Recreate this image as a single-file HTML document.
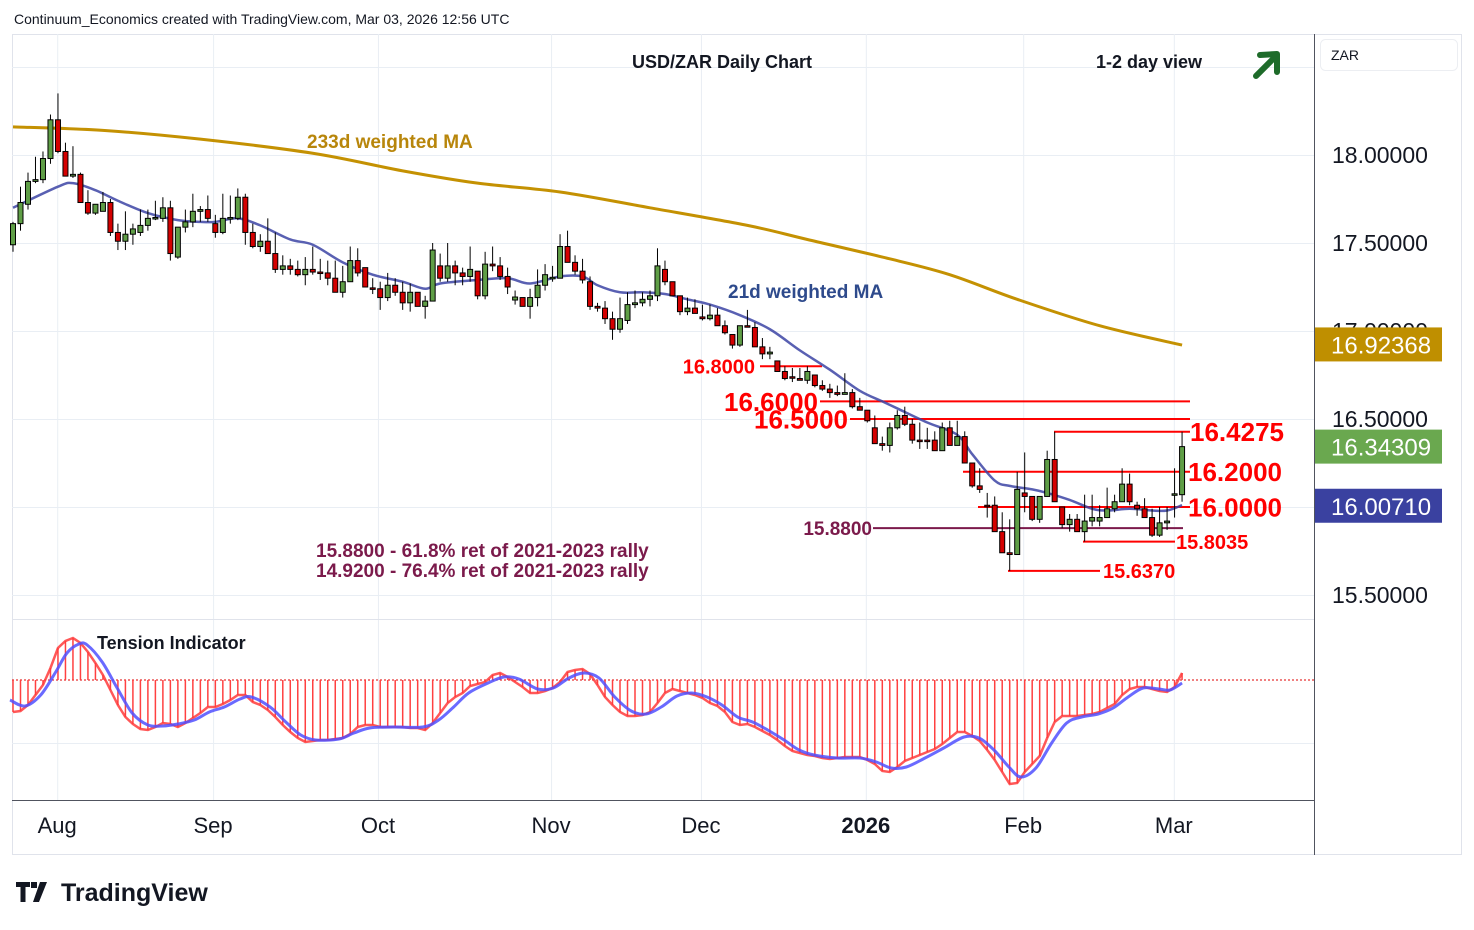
<!DOCTYPE html>
<html><head><meta charset="utf-8"><style>
html,body{margin:0;padding:0;background:#fff;}
svg{display:block;font-family:"Liberation Sans","DejaVu Sans",sans-serif;}
</style></head><body>
<svg id="chart" width="1474" height="930" viewBox="0 0 1474 930" xmlns="http://www.w3.org/2000/svg">
<text x="14" y="24" font-size="14" fill="#131722">Continuum_Economics created with TradingView.com, Mar 03, 2026 12:56 UTC</text>
<rect x="12.5" y="34.5" width="1449" height="820" fill="none" stroke="#e0e3eb"/>
<g id="grid"></g>
<g id="levels"></g>
<g id="mas"></g>
<g id="candles"></g>
<g id="osc"></g>
<line x1="1314.5" y1="34" x2="1314.5" y2="855" stroke="#50535e"/>
<line x1="12" y1="800.5" x2="1314" y2="800.5" stroke="#50535e"/>
<line x1="12" y1="619.5" x2="1314" y2="619.5" stroke="#e0e3eb"/>
<g id="axis"></g>
<g id="taxis"></g>
<text x="722" y="68" font-size="18" font-weight="bold" text-anchor="middle" fill="#131722">USD/ZAR Daily Chart</text>
<text x="1096" y="68" font-size="18" font-weight="bold" fill="#131722">1-2 day view</text>
<g><line x1="1256" y1="76" x2="1274" y2="58" stroke="#1e6b2a" stroke-width="6" stroke-linecap="round"/><polyline points="1260,55 1277,54 1277,72" fill="none" stroke="#1e6b2a" stroke-width="6" stroke-linecap="round" stroke-linejoin="round"/></g>
<rect x="1320.5" y="39.5" width="137" height="31" rx="5" fill="#fff" stroke="#eceef2"/>
<text x="1331" y="60" font-size="14" fill="#131722">ZAR</text>
<text x="307" y="148" font-size="19" font-weight="bold" fill="#b8860b">233d weighted MA</text>
<text x="728" y="298" font-size="19" font-weight="bold" fill="#2e4a8c">21d weighted MA</text>
<text x="316" y="557" font-size="19" font-weight="bold" fill="#7b1a4b">15.8800 - 61.8% ret of 2021-2023 rally</text>
<text x="316" y="577" font-size="19" font-weight="bold" fill="#7b1a4b">14.9200 - 76.4% ret of 2021-2023 rally</text>
<text x="97" y="649" font-size="18" font-weight="bold" fill="#131722">Tension Indicator</text>
<g><path d="M16 882h14v5h-4.5v15h-5v-15H16z M31 882h6v6h-6z M40 882h7l-8 20h-6z" fill="#131722"/><text x="61" y="901" font-size="25" font-weight="bold" fill="#131722">TradingView</text></g>
</svg>
<script>
const opens=[17.49,17.61,17.72,17.85,17.86,17.98,18.20,18.02,17.88,17.89,17.73,17.67,17.68,17.73,17.56,17.51,17.55,17.56,17.60,17.64,17.64,17.70,17.42,17.59,17.62,17.68,17.69,17.61,17.56,17.64,17.64,17.76,17.56,17.48,17.51,17.44,17.35,17.37,17.35,17.32,
17.35,17.335,17.33,17.30,17.22,17.28,17.40,17.36,17.245,17.24,17.19,17.26,17.22,17.16,17.22,17.14,17.17,17.37,17.30,17.37,17.33,17.31,17.34,17.20,17.38,17.37,17.31,17.176,17.19,17.14,17.19,17.26,17.30,17.30,17.48,17.39,17.34,17.28,17.14,
17.13,17.07,17.01,17.06,17.15,17.16,17.18,17.20,17.35,17.28,17.20,17.11,17.13,17.08,17.07,17.09,17.03,16.98,16.92,17.03,17.02,16.91,16.87,16.83,16.77,16.74,16.73,16.72,16.75,16.69,16.67,16.65,16.64,16.65,16.57,16.55,16.45,16.36,
16.35,16.45,16.52,16.47,16.38,16.38,16.38,16.32,16.45,16.35,16.40,16.25,16.12,16.01,16.01,15.86,15.74,15.73,16.08,16.06,15.93,16.06,16.27,16.00,15.90,15.93,15.86,15.92,15.92,15.94,15.99,16.03,16.13,16.01,15.99,15.94,15.84,15.91,16.07,16.07];
const highs=[17.62,17.82,17.90,17.99,18.02,18.23,18.35,18.07,18.05,17.90,17.80,17.72,17.79,17.75,17.61,17.68,17.61,17.69,17.69,17.74,17.76,17.74,17.59,17.69,17.78,17.71,17.77,17.66,17.78,17.77,17.81,17.78,17.61,17.55,17.64,17.56,17.43,17.41,17.40,17.42,
17.48,17.41,17.40,17.40,17.37,17.48,17.47,17.36,17.30,17.28,17.33,17.30,17.28,17.27,17.22,17.20,17.50,17.44,17.50,17.40,17.36,17.48,17.34,17.45,17.48,17.42,17.36,17.23,17.19,17.24,17.35,17.38,17.37,17.55,17.57,17.43,17.41,17.31,17.16,
17.17,17.11,17.19,17.22,17.23,17.22,17.23,17.47,17.40,17.28,17.20,17.19,17.18,17.15,17.15,17.13,17.06,16.98,17.03,17.12,17.05,16.96,16.91,16.83,16.80,16.79,16.79,16.80,16.75,16.72,16.70,16.69,16.76,16.67,16.62,16.55,16.52,16.40,
16.48,16.55,16.57,16.50,16.48,16.45,16.43,16.48,16.49,16.49,16.43,16.25,16.22,16.08,16.06,15.97,15.93,16.20,16.31,16.06,16.06,16.32,16.4275,16.00,15.96,15.96,16.07,16.07,16.01,16.11,16.07,16.22,16.19,16.03,16.05,15.99,16.00,16.00,16.22,16.4275];
const lows=[17.45,17.57,17.69,17.84,17.84,17.95,18.01,17.88,17.87,17.73,17.66,17.66,17.68,17.54,17.46,17.46,17.49,17.54,17.57,17.63,17.62,17.40,17.41,17.56,17.59,17.62,17.62,17.53,17.55,17.61,17.63,17.49,17.47,17.45,17.44,17.33,17.32,17.32,17.31,17.26,
17.32,17.29,17.26,17.22,17.19,17.28,17.31,17.25,17.21,17.12,17.17,17.20,17.12,17.11,17.14,17.07,17.17,17.28,17.28,17.26,17.26,17.28,17.18,17.18,17.34,17.29,17.21,17.15,17.14,17.07,17.14,17.23,17.28,17.30,17.39,17.32,17.27,17.12,17.11,
17.04,16.95,16.99,17.04,17.13,17.14,17.14,17.17,17.26,17.20,17.09,17.09,17.10,17.06,17.06,17.03,16.98,16.90,16.91,17.02,16.91,16.84,16.84,16.77,16.72,16.71,16.72,16.70,16.68,16.66,16.62,16.63,16.64,16.56,16.55,16.48,16.36,16.32,
16.31,16.44,16.46,16.36,16.33,16.33,16.32,16.32,16.35,16.35,16.25,16.11,16.08,15.94,15.86,15.74,15.637,15.73,15.97,15.92,15.91,16.06,16.03,15.88,15.86,15.86,15.8035,15.89,15.89,15.94,15.97,16.03,16.01,15.95,15.94,15.83,15.83,15.87,15.94,16.03];
const closes=[17.61,17.73,17.85,17.86,17.98,18.20,18.02,17.88,17.89,17.73,17.67,17.72,17.73,17.56,17.51,17.55,17.58,17.60,17.64,17.645,17.70,17.44,17.59,17.62,17.68,17.69,17.64,17.56,17.64,17.645,17.76,17.56,17.48,17.51,17.44,17.35,17.37,17.35,17.32,17.35,
17.335,17.33,17.30,17.22,17.28,17.40,17.33,17.25,17.24,17.19,17.26,17.22,17.16,17.22,17.14,17.17,17.46,17.30,17.37,17.33,17.31,17.35,17.20,17.38,17.37,17.31,17.25,17.193,17.14,17.19,17.26,17.32,17.305,17.48,17.39,17.34,17.29,17.14,17.13,
17.07,17.01,17.07,17.15,17.16,17.18,17.20,17.37,17.28,17.20,17.11,17.13,17.10,17.07,17.09,17.03,16.99,16.92,17.03,17.025,16.91,16.87,16.88,16.77,16.73,16.735,16.72,16.77,16.69,16.67,16.65,16.64,16.65,16.57,16.55,16.49,16.36,16.35,
16.45,16.52,16.47,16.38,16.375,16.375,16.32,16.45,16.35,16.40,16.25,16.12,16.10,16.005,15.86,15.74,15.73,16.10,16.06,15.93,16.06,16.27,16.03,15.90,15.93,15.86,15.92,15.94,15.94,15.99,16.03,16.13,16.03,15.99,15.94,15.84,15.91,15.92,16.075,16.343];
const ma21Idx=[0,6,8,11,14,18,22,25,27,30,33,37,40,44,48,52,55,57,62,66,69,73,76,78,81,84,87,90,93,97,101,105,109,113,116,118,122,126,128,131,133,136,138,141,144,146,149,152,154,156];
const ma21Val=[17.70,17.82,17.84,17.80,17.74,17.67,17.63,17.62,17.62,17.64,17.60,17.52,17.49,17.39,17.32,17.28,17.24,17.27,17.29,17.30,17.27,17.31,17.31,17.26,17.22,17.22,17.21,17.18,17.15,17.09,17.01,16.89,16.78,16.66,16.60,16.56,16.48,16.41,16.30,16.15,16.12,16.10,16.08,16.04,15.99,15.98,15.99,15.98,15.98,16.01];
const ma233Idx=[0,12,25,40,52,62,73,85,98,106,117,125,134,145,156];
const ma233Val=[18.16,18.14,18.09,18.01,17.91,17.84,17.79,17.70,17.60,17.52,17.41,17.32,17.18,17.03,16.92];
const tensionRed=[-32,-31,-25,-15,-5,12,32,39,42,37,28,17,5,-10,-25,-37,-44,-49,-50,-47,-43,-44,-47,-43,-38,-33,-27,-27,-24,-20,-15,-15,-22,-25,-30,-37,-45,-52,-58,-62,-61,-60,-60,-59,-58,-54,-47,-45,-45,-47,-47,-47,-47,-48,-48,-50,-43,-33,-23,-17,-13,-6,-4,-2,5,7,3,-2,-7,-13,-13,-11,-8,-2,8,10,11,6,-5,-17,
-25,-32,-36,-36,-35,-32,-23,-13,-9,-11,-13,-15,-18,-23,-26,-32,-42,-45,-44,-47,-51,-55,-60,-66,-71,-73,-75,-76,-78,-79,-78,-77,-77,-77,-80,-84,-91,-92,-87,-81,-78,-75,-72,-69,-64,-58,-52,-52,-56,-61,-70,-80,-92,-104,-103,-92,-84,-76,-58,-42,-36,-36,-36,-35,-34,-32,-28,-24,-15,-9,-7,-7,-9,-11,-12,-7,7];
const tensionBlueIdx=[-0.4,1.6,3.7,5.7,7.2,8.8,9.9,11.9,13.9,15.9,18,20,22,24.2,26.2,28.2,30.3,31.8,34.3,36.4,38.4,40.4,43.5,45.5,47.6,50.7,54.7,56.8,58.8,60.8,63.4,65.5,67.5,70,72.1,74.2,76.2,78.2,80.3,82.5,84.5,86.5,88.6,90.6,92.6,94.6,96.7,98.7,100.7,102.9,104.9,106.9,110,113,115.2,117.2,119.2,121.7,124.2,126.9,128.9,130.9,132.9,134.5,136.5,138.6,140.6,142.6,144.8,146.8,148.8,150.8,152.9,154.4,156];
const tensionBlueVal=[-20,-26,-15,8,27,36,35,18,-8,-33,-45,-46,-44,-40,-32,-27,-19,-17,-27,-42,-55,-60,-59,-53,-48,-47,-47,-40,-27,-13,-3,3,1,-9,-8,2,7,2,-17,-31,-34,-27,-16,-13,-17,-25,-37,-42,-50,-60,-70,-75,-78,-78,-82,-88,-87,-78,-68,-57,-58,-70,-87,-97,-88,-63,-43,-37,-34,-28,-17,-8,-9,-10,-3];
const priceTicks=[18.5,18.0,17.5,17.0,16.5,16.0,15.5];
const priceTickLabels=["","18.00000","17.50000","17.00000","16.50000","","15.50000"];
const monthIdx=[5.9,26.7,48.7,71.8,91.8,113.8,134.8,154.9];
const monthLabels=["Aug","Sep","Oct","Nov","Dec","2026","Feb","Mar"];

const NS="http://www.w3.org/2000/svg";
const xOf=i=>13+7.494*i;
const yOf=p=>155+(18-p)*176;
const yOsc=v=>680-v;
function mk(tag,attrs,parent){const e=document.createElementNS(NS,tag);for(const k in attrs)e.setAttribute(k,attrs[k]);parent.appendChild(e);return e;}

const grid=document.getElementById('grid');
priceTicks.forEach(p=>{const l=mk('line',{x1:12,x2:1314,y1:yOf(p)+0.5,y2:yOf(p)+0.5,stroke:'#e9eef4'},grid);

});
const og=mk('line',{x1:12,x2:1314,y1:743.5,y2:743.5,stroke:'#e9eef4'},grid);


monthIdx.forEach(m=>{const l=mk('line',{x1:xOf(m)+0.5,x2:xOf(m)+0.5,y1:34,y2:800,stroke:'#e9eef4'},grid);

});

const axis=document.getElementById('axis');
priceTicks.forEach((p,k)=>{if(!priceTickLabels[k])return;const t=mk('text',{x:1332,y:yOf(p)+8,'font-size':23,fill:'#131722'},axis);t.textContent=priceTickLabels[k];

});
const tags=[[16.92368,'#bf8f00','16.92368','ma233-value-tag'],[16.34309,'#6aa84f','16.34309','last-price-tag'],[16.00710,'#3a41a0','16.00710','ma21-value-tag']];
tags.forEach(tg=>{const g=mk('g',{},axis);


const yy=yOf(tg[0]);mk('rect',{x:1315,y:yy-17,width:127,height:34,fill:tg[1]},g);
const t=mk('text',{x:1331,y:yy+9,'font-size':24,fill:'#fff'},g);t.textContent=tg[2];});

const ta=document.getElementById('taxis');
monthIdx.forEach((m,k)=>{const t=mk('text',{x:xOf(m),y:833,'font-size':22,'text-anchor':'middle',fill:'#131722','font-weight':monthLabels[k]==='2026'?'bold':'normal'},ta);t.textContent=monthLabels[k];

});

const lv=document.getElementById('levels');
const levelVals=[16.8,16.6,16.5,16.4275,16.2,16.0,15.88,15.8035,15.637];
const levelText=["16.8000","16.6000","16.5000","16.4275","16.2000","16.0000","15.8800","15.8035","15.6370"];
const levelSpan=[[760,822],[820,1190],[850,1190],[1054,1190],[963,1190],[978,1190],[873,1183],[1083,1175],[1008,1100]];
const levelLabel=[[755,'end',20],[818,'end',26],[848,'end',26],[1190,'start',26],[1188,'start',26],[1188,'start',26],[872,'end',19],[1176,'start',20],[1103,'start',20]];
levelVals.forEach((v,k)=>{const g=mk('g',{},lv);


const col=k===6?'#7b1a4b':'#ff0000';
mk('line',{x1:levelSpan[k][0],x2:levelSpan[k][1],y1:yOf(v),y2:yOf(v),stroke:col,'stroke-width':2},g);
const t=mk('text',{x:levelLabel[k][0],y:yOf(v)+levelLabel[k][2]*0.36,'text-anchor':levelLabel[k][1],'font-size':levelLabel[k][2],'font-weight':'bold',fill:col},g);t.textContent=levelText[k];});

const mas=document.getElementById('mas');
function smoothPath(pts){let d='M'+pts[0][0]+','+pts[0][1];for(let k=0;k<pts.length-1;k++){const p0=pts[k-1]||pts[k],p1=pts[k],p2=pts[k+1],p3=pts[k+2]||p2;
d+=' C'+(p1[0]+(p2[0]-p0[0])/6)+','+(p1[1]+(p2[1]-p0[1])/6)+' '+(p2[0]-(p3[0]-p1[0])/6)+','+(p2[1]-(p3[1]-p1[1])/6)+' '+p2[0]+','+p2[1];}return d;}
const m233=mk('path',{d:smoothPath(ma233Idx.map((i,k)=>[xOf(i),yOf(ma233Val[k])])),fill:'none',stroke:'#c49102','stroke-width':3},mas);


const m21=mk('path',{d:smoothPath(ma21Idx.map((i,k)=>[xOf(i),yOf(ma21Val[k])])),fill:'none',stroke:'#3c44a4','stroke-width':2.5,'stroke-opacity':0.85},mas);



const cg=document.getElementById('candles');
opens.forEach((o,i)=>{const c=closes[i],x=xOf(i);const up=c>=o;const g=mk('g',{},cg);


mk('line',{x1:x,x2:x,y1:yOf(highs[i]),y2:yOf(lows[i]),stroke:'#000','stroke-width':1},g);
const top=yOf(Math.max(o,c)),h=Math.max(1.5,Math.abs(yOf(o)-yOf(c)));
mk('rect',{x:x-2.5,y:top,width:5,height:h,fill:up?'#5f9e46':'#d40000',stroke:'#000','stroke-width':1},g);});

const os=document.getElementById('osc');
const zl=mk('line',{x1:12,x2:1314,y1:680,y2:680,stroke:'#e00000','stroke-dasharray':'2,2','stroke-width':1},os);


tensionRed.forEach((v,i)=>{const l=mk('line',{x1:xOf(i),x2:xOf(i),y1:680,y2:yOsc(v),stroke:'#ff4040','stroke-width':1.5},os);

});
const rl=mk('polyline',{points:tensionRed.map((v,i)=>xOf(i)+','+yOsc(v)).join(' '),fill:'none',stroke:'#ff3b3b','stroke-width':2.5,'stroke-opacity':0.85},os);


const bl=mk('path',{d:smoothPath(tensionBlueIdx.map((i,k)=>[xOf(i),yOsc(tensionBlueVal[k])])),fill:'none',stroke:'#5050ff','stroke-width':3,'stroke-opacity':0.85},os);


</script>
</body></html>
